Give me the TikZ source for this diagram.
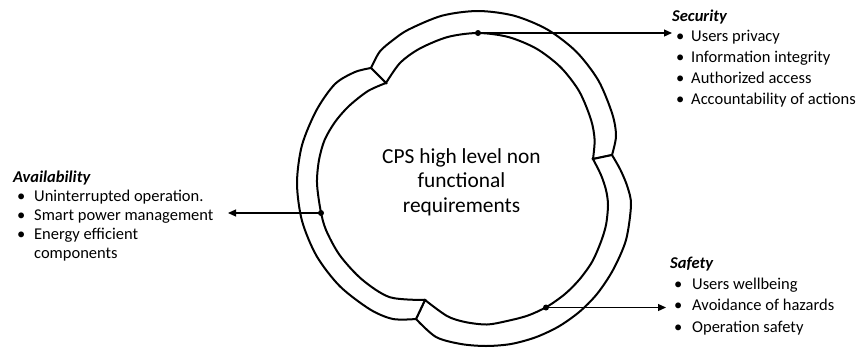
\documentclass[tikz,border=0pt]{standalone}
\usepackage{fontspec}
\setmainfont{Carlito}
\usetikzlibrary{arrows.meta}
\begin{document}
\begin{tikzpicture}[x=1pt,y=-1pt,
  ring/.style={draw=black,line width=2pt,fill=white,line join=miter},
  conn/.style={draw=black,line width=1.2pt},
  arr/.style={conn,-{Triangle[length=8pt,width=7pt]}},
  dotmark/.style={circle,fill=black,inner sep=0pt,minimum size=6pt},
  lbl/.style={inner sep=0pt,anchor=base west,font=\fontsize{16.5}{20.8}\selectfont},
  ctr/.style={inner sep=0pt,anchor=base,font=\fontsize{21.4}{24.8}\selectfont}]
\useasboundingbox (0,0) rectangle (862,351);

% top segment
\path[ring] plot[smooth] coordinates {(371,68) (379.7,51.7) (392.4,40.5) (408.5,29.6) (442,15.7) (478,11) (514,15.7) (547.5,29.6) (576.3,51.7) (598.4,80.5) (612.3,114) (616,136) (612,155)}
  -- plot[smooth] coordinates {(593,159) (594.6,139.8) (591,119.7) (579.3,91.5) (560.7,67.3) (536.5,48.7) (508.3,37) (478,33) (447.7,37) (419.5,48.7) (400,63) (386,83)} -- cycle;

% right / bottom segment
\path[ring] plot[smooth] coordinates {(612,155) (620.5,170) (627.5,187) (631,205) (626,240) (613,270) (597,294) (579.2,312) (558.5,326.6) (535.6,337.3) (511,344) (486,346) (461,344) (436,337) (416,319)}
  -- plot[smooth] coordinates {(425,300) (447,316) (465,322) (487,324.5) (507,321) (528,315.5) (547,306.7) (565,294) (579.5,279.4) (592,262) (600.6,242.7) (606,225) (608,205) (606,190) (601,175) (593,159)} -- cycle;

% left segment
\path[ring] plot[smooth] coordinates {(416,319) (393,319) (370,309.4) (339.8,286.2) (316.6,256) (302,220.8) (297,183) (302,145.2) (316.6,110) (335,84) (355,72) (371,68)}
  -- plot[smooth] coordinates {(386,83) (368,91) (349,106) (335,122) (324.6,140) (319,160) (317,183) (320.5,210) (326,230) (339.8,255.3) (362,279.5) (389.8,297.2) (425,300)} -- cycle;

% centre text
\node[ctr] (core) at (461.5,163) {\begin{tabular}[t]{@{}c@{}}CPS high level non\\functional\\requirements\end{tabular}};

% dots and connector ends
\node[dotmark] (secdot) at (478,33) {};
\node[dotmark] (avdot) at (321,213) {};
\node[dotmark] (safdot) at (546,307.5) {};
\coordinate (sectip) at (672,33);
\coordinate (avtip) at (228,213);
\coordinate (saftip) at (666,307.5);

\draw[arr] (secdot.center) -- (sectip);
\draw[arr] (avdot.center) -- (avtip);
\draw[arr] (safdot.center) -- (saftip);

% labels
\node[lbl] (security) at (672,21) {\begin{tabular}[t]{@{\hspace{4pt}}p{15pt}@{}l@{}}
\multicolumn{2}{@{}l@{}}{\textbf{\textit{Security}}}\\
\textbullet & Users privacy\\
\textbullet & Information integrity\\
\textbullet & Authorized access\\
\textbullet & Accountability of actions
\end{tabular}};

\node[lbl,font=\fontsize{16.5}{19.2}\selectfont] (availability) at (13,182) {\begin{tabular}[t]{@{\hspace{4pt}}p{17pt}@{}l@{}}
\multicolumn{2}{@{}l@{}}{\textbf{\textit{Availability}}}\\
\textbullet & Uninterrupted operation.\\
\textbullet & Smart power management\\
\textbullet & Energy efficient\\
 & components
\end{tabular}};

\node[lbl,font=\fontsize{16.5}{21.2}\selectfont] (safety) at (670,268.5) {\begin{tabular}[t]{@{\hspace{4pt}}p{18pt}@{}l@{}}
\multicolumn{2}{@{}l@{}}{\textbf{\textit{Safety}}}\\
\textbullet & Users wellbeing\\
\textbullet & Avoidance of hazards\\
\textbullet & Operation safety
\end{tabular}};
\end{tikzpicture}
\end{document}
